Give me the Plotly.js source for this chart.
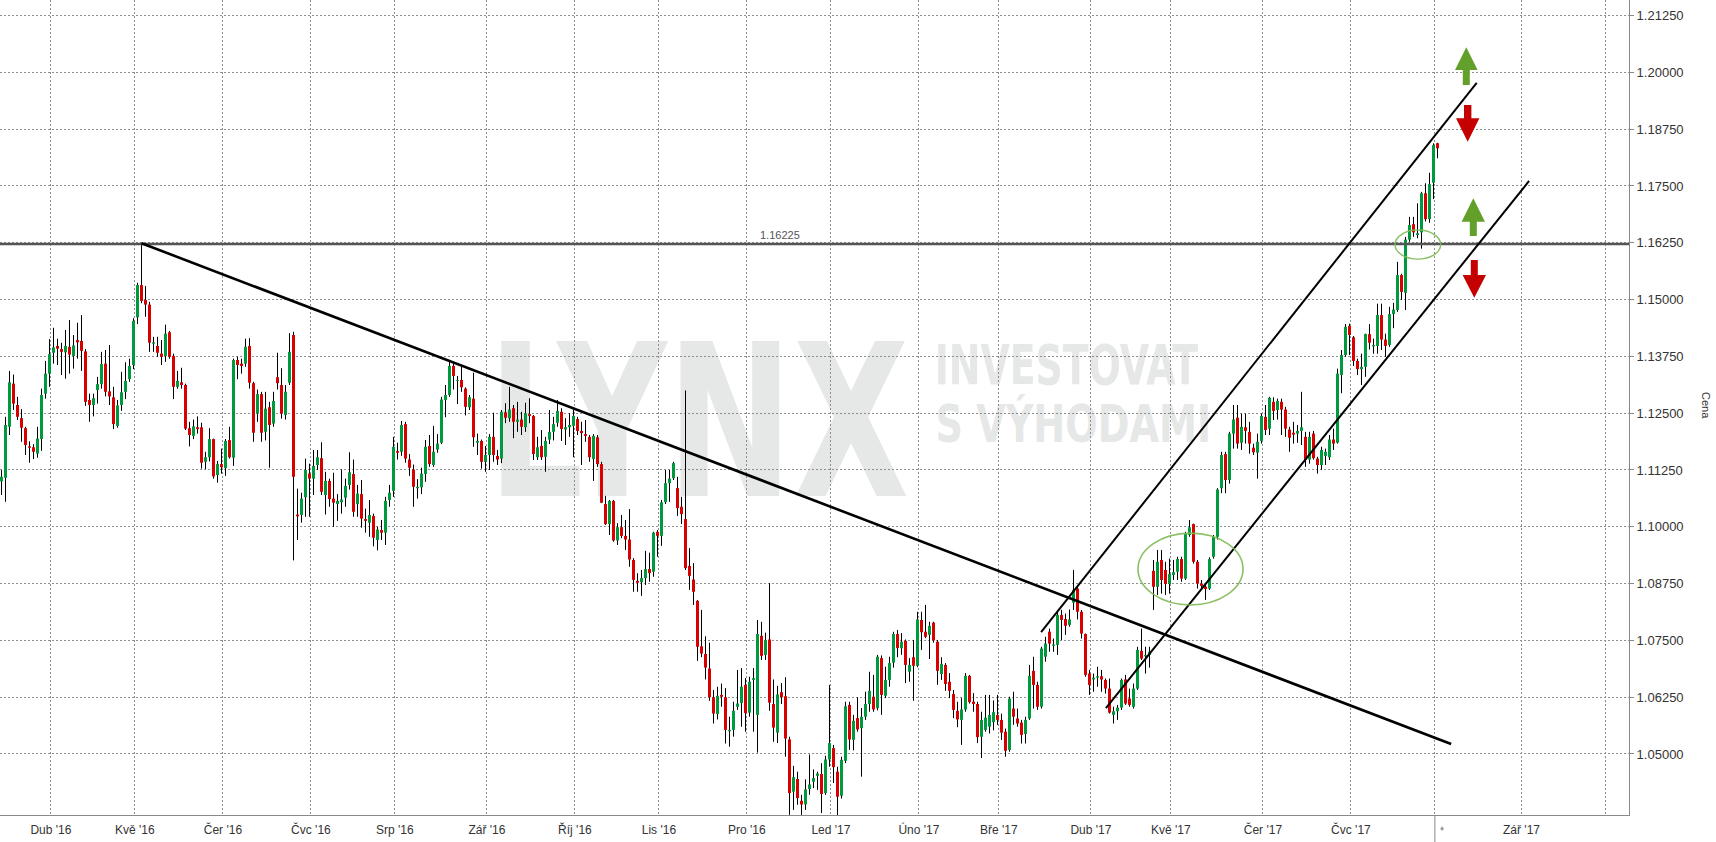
<!DOCTYPE html>
<html>
<head>
<meta charset="utf-8">
<script src="https://cdn.plot.ly/plotly-3.0.1.min.js"></script>
<style>
html,body{margin:0;padding:0;background:#ffffff;}
#wrap{position:relative;width:1716px;height:842px;overflow:hidden;background:#fff;}
#wm{position:absolute;left:0;top:0;z-index:0;}
#chart{position:absolute;left:0;top:0;width:1716px;height:842px;z-index:1;}
</style>
</head>
<body>
<div id="wrap"><svg id="wm" width="1716" height="842" xmlns="http://www.w3.org/2000/svg"></svg><div id="chart"></div></div>
<script>
// ---------------- DATA (EUR/USD daily) ----------------
const firstDay = "2016-03-15";
const lastDay = "2017-08-01";
const closedDays = ["2016-12-26"];

const openP = [
1.1100,1.1108,1.1220,1.1315,1.1268,1.1239,1.1217,1.1177,1.1175,1.1161,
1.1193,1.1293,1.1337,1.1383,1.1398,1.1391,1.1384,1.1396,1.1376,1.1411,
1.1409,1.1386,1.1279,1.1268,1.1301,1.1314,1.1359,1.1298,1.1285,1.1222,
1.1268,1.1297,1.1325,1.1356,1.1461,1.1532,1.1499,1.1489,1.1403,1.1398,
1.1381,1.1376,1.1428,1.1376,1.1308,1.1318,1.1312,1.1217,1.1200,1.1219,
1.1219,1.1143,1.1153,1.1193,1.1114,1.1138,1.1129,1.1191,1.1152,1.1367,
1.1359,1.1359,1.1398,1.1316,1.1249,1.1292,1.1209,1.1263,1.1227,1.1329,
1.1312,1.1246,1.1317,1.1422,1.1027,1.1026,1.1065,1.1117,1.1106,1.1136,
1.1151,1.1070,1.1101,1.1062,1.1050,1.1054,1.1064,1.1092,1.1116,1.1050,
1.1072,1.1017,1.1009,1.1024,1.0971,1.0993,1.0987,1.1059,1.1079,1.1167,
1.1165,1.1226,1.1148,1.1126,1.1085,1.1087,1.1116,1.1178,1.1136,1.1170,
1.1185,1.1279,1.1290,1.1354,1.1321,1.1323,1.1304,1.1263,1.1282,1.1185,
1.1189,1.1143,1.1158,1.1198,1.1156,1.1150,1.1252,1.1239,1.1261,1.1231,
1.1236,1.1219,1.1248,1.1244,1.1153,1.1178,1.1154,1.1192,1.1209,1.1229,
1.1253,1.1214,1.1219,1.1222,1.1237,1.1211,1.1204,1.1198,1.1149,1.1197,
1.1138,1.1050,1.1006,1.1057,1.0970,1.0999,1.0980,1.0972,1.0927,1.0881,
1.0878,1.0887,1.0907,1.0901,1.0989,1.0980,1.1054,1.1096,1.1107,1.1085,
1.1044,1.1017,1.0914,1.0884,1.0837,1.0737,1.0720,1.0688,1.0625,1.0588,
1.0630,1.0625,1.0550,1.0553,1.0604,1.0612,1.0652,1.0591,1.0663,1.0586,
1.0760,1.0718,1.0752,1.0610,1.0547,1.0636,1.0627,1.0532,1.0417,1.0445,
1.0397,1.0389,1.0423,1.0439,1.0452,1.0456,1.0414,1.0488,1.0513,1.0461,
1.0408,1.0485,1.0608,1.0531,1.0579,1.0557,1.0582,1.0610,1.0626,1.0601,
1.0711,1.0628,1.0663,1.0701,1.0764,1.0733,1.0749,1.0681,1.0713,1.0694,
1.0795,1.0769,1.0762,1.0789,1.0747,1.0676,1.0696,1.0659,1.0632,1.0595,
1.0575,1.0598,1.0672,1.0615,1.0610,1.0538,1.0553,1.0560,1.0570,1.0586,
1.0575,1.0549,1.0509,1.0600,1.0578,1.0569,1.0544,1.0578,1.0683,1.0652,
1.0604,1.0714,1.0769,1.0738,1.0740,1.0806,1.0797,1.0784,1.0833,1.0864,
1.0813,1.0764,1.0677,1.0664,1.0668,1.0671,1.0663,1.0644,1.0586,1.0594,
1.0602,1.0664,1.0622,1.0604,1.0644,1.0727,1.0715,1.0718,1.0903,1.0868,
1.0927,1.0905,1.0874,1.0894,1.0901,1.0929,1.0886,1.0982,1.1006,1.0923,
1.0875,1.0868,1.0864,1.0934,1.0978,1.1085,1.1160,1.1103,1.1205,1.1240,
1.1185,1.1219,1.1209,1.1174,1.1163,1.1189,1.1242,1.1216,1.1275,1.1257,
1.1275,1.1258,1.1214,1.1207,1.1205,1.1211,1.1198,1.1148,1.1205,1.1150,
1.1136,1.1156,1.1153,1.1192,1.1185,1.1334,1.1378,1.1442,1.1417,1.1365,
1.1347,1.1352,1.1424,1.1397,1.1398,1.1466,1.1412,1.1400,1.1468,1.1477,
1.1554,1.1515,1.1632,1.1666,1.1642,1.1648,1.1734,1.1677,1.1757,1.1844
];
const highP = [
1.1125,1.1242,1.1343,1.1335,1.1286,1.1259,1.1220,1.1188,1.1182,1.1220,
1.1304,1.1365,1.1413,1.1438,1.1414,1.1405,1.1433,1.1455,1.1422,1.1449,
1.1466,1.1391,1.1293,1.1293,1.1330,1.1385,1.1389,1.1400,1.1308,1.1279,
1.1341,1.1362,1.1370,1.1459,1.1537,1.1624,1.1530,1.1495,1.1418,1.1418,
1.1411,1.1445,1.1431,1.1381,1.1343,1.1350,1.1315,1.1231,1.1236,1.1243,
1.1229,1.1165,1.1217,1.1194,1.1145,1.1172,1.1193,1.1220,1.1370,1.1374,
1.1370,1.1414,1.1415,1.1319,1.1302,1.1297,1.1297,1.1275,1.1297,1.1383,
1.1349,1.1312,1.1426,1.1429,1.1084,1.1075,1.1150,1.1139,1.1169,1.1169,
1.1186,1.1121,1.1106,1.1119,1.1072,1.1126,1.1106,1.1164,1.1148,1.1092,
1.1103,1.1040,1.1059,1.1029,1.1000,1.1015,1.1066,1.1092,1.1198,1.1185,
1.1233,1.1231,1.1160,1.1137,1.1105,1.1130,1.1191,1.1202,1.1222,1.1204,
1.1286,1.1312,1.1363,1.1360,1.1332,1.1352,1.1307,1.1290,1.1339,1.1205,
1.1192,1.1178,1.1204,1.1251,1.1169,1.1257,1.1272,1.1308,1.1268,1.1275,
1.1253,1.1273,1.1283,1.1246,1.1198,1.1213,1.1198,1.1257,1.1242,1.1279,
1.1261,1.1239,1.1250,1.1258,1.1242,1.1231,1.1235,1.1202,1.1204,1.1202,
1.1143,1.1068,1.1059,1.1059,1.1008,1.1026,1.1015,1.1039,1.0931,1.0898,
1.0905,1.0947,1.0943,1.0989,1.0993,1.1059,1.1125,1.1125,1.1143,1.1110,
1.1066,1.1300,1.0953,1.0920,1.0839,1.0817,1.0759,1.0745,1.0641,1.0648,
1.0655,1.0645,1.0582,1.0615,1.0685,1.0689,1.0667,1.0670,1.0689,1.0795,
1.0791,1.0767,1.0876,1.0664,1.0650,1.0656,1.0669,1.0538,1.0474,1.0461,
1.0410,1.0444,1.0499,1.0466,1.0461,1.0480,1.0496,1.0652,1.0520,1.0472,
1.0494,1.0615,1.0615,1.0586,1.0625,1.0601,1.0637,1.0681,1.0674,1.0718,
1.0717,1.0692,1.0714,1.0769,1.0773,1.0766,1.0752,1.0711,1.0751,1.0813,
1.0813,1.0828,1.0791,1.0791,1.0751,1.0713,1.0700,1.0678,1.0641,1.0615,
1.0623,1.0678,1.0674,1.0634,1.0615,1.0593,1.0630,1.0630,1.0618,1.0630,
1.0589,1.0556,1.0626,1.0637,1.0600,1.0575,1.0582,1.0696,1.0714,1.0659,
1.0736,1.0758,1.0776,1.0754,1.0813,1.0817,1.0809,1.0818,1.0905,1.0869,
1.0817,1.0765,1.0685,1.0677,1.0692,1.0685,1.0666,1.0666,1.0604,1.0608,
1.0666,1.0674,1.0644,1.0655,1.0736,1.0776,1.0736,1.0736,1.0927,1.0949,
1.0949,1.0923,1.0930,1.0927,1.0934,1.0934,1.0989,1.1015,1.1007,1.0927,
1.0883,1.0872,1.0933,1.0982,1.1085,1.1165,1.1165,1.1209,1.1268,1.1268,
1.1249,1.1249,1.1231,1.1183,1.1205,1.1249,1.1268,1.1286,1.1285,1.1282,
1.1282,1.1264,1.1220,1.1231,1.1224,1.1297,1.1209,1.1209,1.1211,1.1154,
1.1176,1.1172,1.1202,1.1216,1.1348,1.1389,1.1446,1.1447,1.1420,1.1370,
1.1381,1.1425,1.1446,1.1414,1.1491,1.1491,1.1425,1.1484,1.1493,1.1583,
1.1557,1.1638,1.1682,1.1682,1.1712,1.1737,1.1756,1.1779,1.1844,1.1845
];
const lowP = [
1.1070,1.1055,1.1202,1.1257,1.1235,1.1187,1.1158,1.1141,1.1149,1.1152,
1.1167,1.1282,1.1308,1.1359,1.1356,1.1334,1.1326,1.1337,1.1348,1.1370,
1.1343,1.1266,1.1231,1.1243,1.1271,1.1304,1.1287,1.1268,1.1215,1.1218,
1.1255,1.1281,1.1319,1.1347,1.1446,1.1492,1.1462,1.1385,1.1385,1.1374,
1.1356,1.1363,1.1370,1.1281,1.1304,1.1304,1.1213,1.1177,1.1193,1.1205,
1.1128,1.1127,1.1144,1.1106,1.1097,1.1117,1.1112,1.1150,1.1134,1.1325,
1.1337,1.1352,1.1304,1.1187,1.1231,1.1187,1.1190,1.1130,1.1220,1.1302,
1.1238,1.1236,1.1312,1.0926,1.0971,1.1009,1.1022,1.1022,1.1070,1.1125,
1.1070,1.1027,1.1044,1.1000,1.1013,1.1029,1.1044,1.1082,1.1022,1.1022,
1.0998,1.0987,1.0978,1.0957,1.0948,1.0971,1.0960,1.1044,1.1066,1.1148,
1.1156,1.1141,1.1112,1.1044,1.1062,1.1072,1.1099,1.1132,1.1132,1.1163,
1.1182,1.1241,1.1286,1.1302,1.1270,1.1297,1.1245,1.1257,1.1176,1.1158,
1.1128,1.1121,1.1125,1.1143,1.1136,1.1140,1.1228,1.1231,1.1195,1.1209,
1.1202,1.1209,1.1228,1.1147,1.1147,1.1147,1.1121,1.1182,1.1190,1.1220,
1.1189,1.1180,1.1198,1.1153,1.1202,1.1136,1.1187,1.1143,1.1101,1.1132,
1.1052,1.1004,1.0982,1.0967,1.0960,1.0975,1.0949,1.0912,1.0857,1.0857,
1.0848,1.0872,1.0879,1.0890,1.0934,1.0958,1.1050,1.1055,1.1103,1.1024,
1.1006,1.0905,1.0861,1.0828,1.0705,1.0713,1.0664,1.0617,1.0567,1.0576,
1.0604,1.0523,1.0516,1.0538,1.0597,1.0560,1.0549,1.0582,1.0549,1.0503,
1.0707,1.0707,1.0595,1.0527,1.0524,1.0610,1.0494,1.0366,1.0377,1.0388,
1.0366,1.0377,1.0410,1.0425,1.0421,1.0370,1.0410,1.0472,1.0436,1.0340,
1.0402,1.0480,1.0509,1.0508,1.0549,1.0450,1.0575,1.0593,1.0593,1.0596,
1.0586,1.0623,1.0648,1.0690,1.0713,1.0718,1.0656,1.0659,1.0617,1.0691,
1.0729,1.0755,1.0709,1.0745,1.0652,1.0663,1.0639,1.0623,1.0579,1.0559,
1.0520,1.0593,1.0611,1.0593,1.0524,1.0491,1.0549,1.0545,1.0552,1.0564,
1.0531,1.0494,1.0505,1.0564,1.0560,1.0523,1.0523,1.0575,1.0600,1.0597,
1.0600,1.0703,1.0725,1.0725,1.0718,1.0751,1.0762,1.0780,1.0817,1.0796,
1.0754,1.0670,1.0630,1.0637,1.0648,1.0637,1.0633,1.0589,1.0567,1.0575,
1.0597,1.0608,1.0604,1.0600,1.0641,1.0707,1.0677,1.0690,1.0817,1.0850,
1.0853,1.0850,1.0853,1.0883,1.0883,1.0879,1.0883,1.0978,1.0919,1.0864,
1.0861,1.0839,1.0861,1.0930,1.0972,1.1074,1.1074,1.1095,1.1172,1.1172,
1.1169,1.1183,1.1161,1.1158,1.1106,1.1183,1.1202,1.1202,1.1235,1.1236,
1.1202,1.1198,1.1165,1.1183,1.1185,1.1180,1.1132,1.1139,1.1148,1.1117,
1.1125,1.1136,1.1147,1.1169,1.1183,1.1294,1.1374,1.1378,1.1354,1.1334,
1.1312,1.1330,1.1390,1.1381,1.1381,1.1389,1.1374,1.1396,1.1437,1.1473,
1.1499,1.1477,1.1627,1.1638,1.1635,1.1612,1.1672,1.1669,1.1721,1.1811
];
const closeP = [
1.1110,1.1224,1.1318,1.1271,1.1242,1.1218,1.1180,1.1174,1.1165,1.1194,
1.1290,1.1337,1.1380,1.1395,1.1392,1.1385,1.1398,1.1379,1.1399,1.1406,
1.1387,1.1275,1.1268,1.1283,1.1314,1.1358,1.1297,1.1287,1.1226,1.1267,
1.1296,1.1321,1.1354,1.1453,1.1532,1.1497,1.1489,1.1405,1.1406,1.1383,
1.1374,1.1425,1.1374,1.1308,1.1321,1.1312,1.1216,1.1202,1.1221,1.1215,
1.1141,1.1153,1.1193,1.1111,1.1138,1.1131,1.1189,1.1153,1.1367,1.1356,
1.1354,1.1396,1.1317,1.1207,1.1292,1.1207,1.1260,1.1224,1.1277,1.1316,
1.1249,1.1297,1.1385,1.1110,1.1023,1.1062,1.1125,1.1106,1.1134,1.1153,
1.1077,1.1101,1.1061,1.1053,1.1057,1.1060,1.1090,1.1120,1.1033,1.1073,
1.1018,1.1013,1.1026,1.0976,1.0994,1.0987,1.1057,1.1075,1.1176,1.1163,
1.1224,1.1150,1.1130,1.1088,1.1088,1.1117,1.1176,1.1138,1.1165,1.1183,
1.1280,1.1290,1.1354,1.1332,1.1323,1.1307,1.1264,1.1285,1.1197,1.1189,
1.1143,1.1158,1.1198,1.1158,1.1148,1.1253,1.1240,1.1258,1.1231,1.1236,
1.1220,1.1250,1.1244,1.1160,1.1175,1.1153,1.1189,1.1209,1.1226,1.1255,
1.1215,1.1219,1.1224,1.1244,1.1211,1.1206,1.1200,1.1153,1.1200,1.1138,
1.1053,1.1006,1.1057,1.0970,1.0999,1.0980,1.0972,1.0928,1.0883,1.0877,
1.0887,1.0907,1.0898,1.0987,1.0980,1.1054,1.1096,1.1106,1.1140,1.1041,
1.1028,1.0909,1.0892,1.0857,1.0736,1.0721,1.0690,1.0625,1.0589,1.0628,
1.0626,1.0553,1.0553,1.0595,1.0611,1.0648,1.0590,1.0659,1.0667,1.0764,
1.0716,1.0751,1.0613,1.0558,1.0631,1.0625,1.0534,1.0414,1.0449,1.0403,
1.0389,1.0422,1.0433,1.0447,1.0457,1.0412,1.0488,1.0524,1.0471,1.0406,
1.0487,1.0605,1.0532,1.0573,1.0554,1.0582,1.0610,1.0639,1.0598,1.0714,
1.0630,1.0663,1.0700,1.0764,1.0733,1.0747,1.0696,1.0696,1.0694,1.0796,
1.0768,1.0758,1.0782,1.0750,1.0683,1.0698,1.0654,1.0639,1.0597,1.0576,
1.0598,1.0672,1.0614,1.0610,1.0537,1.0575,1.0580,1.0586,1.0592,1.0575,
1.0547,1.0507,1.0622,1.0582,1.0567,1.0542,1.0575,1.0672,1.0652,1.0604,
1.0732,1.0743,1.0743,1.0741,1.0806,1.0795,1.0782,1.0796,1.0861,1.0813,
1.0765,1.0674,1.0652,1.0668,1.0671,1.0664,1.0644,1.0591,1.0594,1.0602,
1.0663,1.0611,1.0608,1.0644,1.0729,1.0710,1.0718,1.0725,1.0868,1.0923,
1.0883,1.0874,1.0896,1.0900,1.0929,1.0886,1.0984,1.0999,1.0923,1.0875,
1.0870,1.0863,1.0929,1.0978,1.1082,1.1158,1.1103,1.1205,1.1236,1.1183,
1.1220,1.1211,1.1183,1.1164,1.1187,1.1244,1.1213,1.1284,1.1255,1.1277,
1.1258,1.1216,1.1196,1.1203,1.1211,1.1219,1.1147,1.1198,1.1151,1.1136,
1.1169,1.1165,1.1192,1.1183,1.1337,1.1378,1.1440,1.1422,1.1365,1.1347,
1.1352,1.1424,1.1405,1.1400,1.1466,1.1412,1.1398,1.1468,1.1478,1.1554,
1.1517,1.1632,1.1664,1.1648,1.1646,1.1734,1.1677,1.1754,1.1840,1.1833
];

const monthKeys   = ["2016-04","2016-05","2016-06","2016-07","2016-08","2016-09","2016-10","2016-11","2016-12","2017-01","2017-02","2017-03","2017-04","2017-05","2017-06","2017-07","2017-08"];
const monthLabels = ["Dub '16","Kvě '16","Čer '16","Čvc '16","Srp '16","Zář '16","Říj '16","Lis '16","Pro '16","Led '17","Úno '17","Bře '17","Dub '17","Kvě '17","Čer '17","Čvc '17",""];
const futureLabels = ["Zář '17",""];
const futureTickIdx = [380.0, 401.1];

const priceTicks = [1.05,1.0625,1.075,1.0875,1.10,1.1125,1.125,1.1375,1.15,1.1625,1.175,1.1875,1.20,1.2125];
const levelValue = 1.16225;
const levelLabel = "1.16225";
const axisTitle = "Cena";

// ---------------- helpers ----------------
function tradingDays(){
  const out=[]; const p=firstDay.split('-').map(Number); const q=lastDay.split('-').map(Number);
  let t=Date.UTC(p[0],p[1]-1,p[2]); const end=Date.UTC(q[0],q[1]-1,q[2]);
  while(t<=end){ const d=new Date(t); const wd=d.getUTCDay(); const s=d.toISOString().slice(0,10);
    if(wd!==0 && wd!==6 && closedDays.indexOf(s)<0) out.push(s); t+=86400000; }
  return out;
}
const dates = tradingDays();
const N = openP.length;

// plot geometry (pixels)
const W=1716, H=842, ML=0, MR=87, MT=0, MB=27;
const PW=W-ML-MR, PH=H-MT-MB;
const xRange=[-0.375, -0.375 + PW/4];
const yTop=1.21593, yBot=yTop - PH*0.00022007;
const pxX = v => v/PW;          // pixel -> paper x
const pxY = v => 1 - v/PH;      // pixel -> paper y
const idxFromPx = v => v/4 + xRange[0];

// ---------------- traces ----------------
const wx=[], wy=[], gx=[], gy=[], rx=[], ry=[];
for(let i=0;i<N;i++){
  wx.push(i,i,null); wy.push(lowP[i],highP[i],null);
  if(closeP[i]>=openP[i]){ gx.push(i,i,null); gy.push(openP[i],closeP[i],null); }
  else { rx.push(i,i,null); ry.push(openP[i],closeP[i],null); }
}
const traces=[
  {type:'scatter',mode:'lines',x:wx,y:wy,line:{color:'#000000',width:1,simplify:false},hoverinfo:'skip',showlegend:false,connectgaps:false},
  {type:'scatter',mode:'lines',x:gx,y:gy,line:{color:'#009a3e',width:3,simplify:false},hoverinfo:'skip',showlegend:false,connectgaps:false},
  {type:'scatter',mode:'lines',x:rx,y:ry,line:{color:'#d80000',width:3,simplify:false},hoverinfo:'skip',showlegend:false,connectgaps:false}
];

// ---------------- ticks ----------------
const tickvals=[], ticktext=[];
monthKeys.forEach((k,j)=>{
  const idx = dates.findIndex(d=>d.slice(0,7)===k);
  if(idx>=0){ tickvals.push(idx-0.65); ticktext.push(monthLabels[j]); }
});
futureTickIdx.forEach((v,j)=>{ tickvals.push(v); ticktext.push(futureLabels[j]); });
const augIdx = dates.findIndex(d=>d.slice(0,7)==="2017-08") - 0.65;

// ---------------- shapes ----------------
function arrowPath(cx, yTip, yBase, yEnd, hw, sw){
  const pts=[[cx,yTip],[cx+hw,yBase],[cx+sw,yBase],[cx+sw,yEnd],[cx-sw,yEnd],[cx-sw,yBase],[cx-hw,yBase]];
  return 'M' + pts.map(p=>pxX(p[0]).toFixed(5)+','+pxY(p[1]).toFixed(5)).join(' L') + ' Z';
}
const GREEN_A='#63a02b', RED_A='#c40000', ELL='rgba(125,185,85,0.9)';
const shapes=[
  {type:'line',xref:'paper',yref:'y',x0:0,x1:1,y0:levelValue,y1:levelValue,line:{color:'#555555',width:2.5},layer:'above'},
  {type:'line',xref:'x',yref:'y',x0:35,y0:1.1624,x1:362.4,y1:1.0522,line:{color:'#000000',width:2.6}},
  {type:'line',xref:'x',yref:'y',x0:259.9,y0:1.0768,x1:368.8,y1:1.1977,line:{color:'#000000',width:2}},
  {type:'line',xref:'x',yref:'y',x0:276.1,y0:1.0601,x1:381.9,y1:1.1761,line:{color:'#000000',width:2}},
  {type:'circle',xref:'x',yref:'y',x0:idxFromPx(1138),x1:idxFromPx(1243),y0:1.0828,y1:1.0986,line:{color:ELL,width:1.6}},
  {type:'circle',xref:'x',yref:'y',x0:idxFromPx(1395),x1:idxFromPx(1440.7),y0:1.1589,y1:1.1653,line:{color:ELL,width:1.4}},
  {type:'path',xref:'paper',yref:'paper',path:arrowPath(1466.3,47.3,70,85,11.3,3.5),fillcolor:GREEN_A,line:{width:0}},
  {type:'path',xref:'paper',yref:'paper',path:arrowPath(1467.7,141.7,118.3,105,11.7,3.7),fillcolor:RED_A,line:{width:0}},
  {type:'path',xref:'paper',yref:'paper',path:arrowPath(1473.3,198.3,221.7,236,11.7,3.5),fillcolor:GREEN_A,line:{width:0}},
  {type:'path',xref:'paper',yref:'paper',path:arrowPath(1474.3,297.7,275,260,11.7,3.5),fillcolor:RED_A,line:{width:0}},
  {type:'line',xref:'x',yref:'paper',x0:augIdx,x1:augIdx,y0:0,y1:-MB/PH,line:{color:'#888888',width:1}}
];

const FONT='"Liberation Sans", Arial, sans-serif';
const annotations=[
  {xref:'x',yref:'y',x:idxFromPx(780),y:levelValue,text:levelLabel,showarrow:false,yanchor:'bottom',yshift:1,font:{family:FONT,size:11,color:'#555555'}},
  {xref:'paper',yref:'paper',x:pxX(1706),y:pxY(405),text:axisTitle,showarrow:false,textangle:90,xanchor:'center',yanchor:'middle',font:{family:FONT,size:11,color:'#333333'}},
  {xref:'x',yref:'paper',x:idxFromPx(1442),y:pxY(829),text:'♦',showarrow:false,xanchor:'center',yanchor:'middle',font:{family:FONT,size:8,color:'#9a9a9a'}}
];

const layout={
  width:W,height:H,autosize:false,
  margin:{l:ML,r:MR,t:MT,b:MB,pad:0},
  paper_bgcolor:'rgba(0,0,0,0)',plot_bgcolor:'rgba(0,0,0,0)',
  showlegend:false,hovermode:false,
  font:{family:FONT,color:'#333333'},
  xaxis:{type:'linear',range:xRange,tickmode:'array',tickvals:tickvals,ticktext:ticktext,
    showgrid:true,gridcolor:'#8e8e8e',gridwidth:1,griddash:'2px,2px',zeroline:false,
    showline:true,linecolor:'#8a8a8a',linewidth:1,ticks:'',ticklabelstandoff:4,
    tickfont:{family:FONT,size:12,color:'#333333'}},
  yaxis:{type:'linear',side:'right',range:[yBot,yTop],tickmode:'array',tickvals:priceTicks,tickformat:'.5f',
    showgrid:true,gridcolor:'#8e8e8e',gridwidth:1,griddash:'2px,2px',zeroline:false,
    showline:true,linecolor:'#8a8a8a',linewidth:1,ticks:'outside',ticklen:4,tickcolor:'#8a8a8a',
    tickfont:{family:FONT,size:13,color:'#333333'}},
  shapes:shapes,annotations:annotations
};

// ---------------- watermark (real text, fitted to its box, behind the chart) ----------------
function fitText(svg,text,box,family,color){
  const ctx=document.createElement('canvas').getContext('2d');
  ctx.font='bold 100px '+family;
  const m=ctx.measureText(text);
  const inkW=m.actualBoundingBoxLeft+m.actualBoundingBoxRight;
  const inkH=m.actualBoundingBoxAscent+m.actualBoundingBoxDescent;
  const sx=(box[2]-box[0])/inkW, sy=(box[3]-box[1])/inkH;
  const t=document.createElementNS('http://www.w3.org/2000/svg','text');
  t.setAttribute('x',0); t.setAttribute('y',0);
  t.setAttribute('font-family',family.replace(/"/g,''));
  t.setAttribute('font-weight','bold'); t.setAttribute('font-size','100');
  t.setAttribute('fill',color);
  const tx=box[0]+m.actualBoundingBoxLeft*sx, ty=box[1]+m.actualBoundingBoxAscent*sy;
  t.setAttribute('transform','translate('+tx.toFixed(2)+','+ty.toFixed(2)+') scale('+sx.toFixed(4)+','+sy.toFixed(4)+')');
  t.textContent=text; svg.appendChild(t);
}
const wmFamily='"Liberation Sans Narrow", "DejaVu Sans Condensed", sans-serif';
const svg=document.getElementById('wm');
fitText(svg,'LYNX',[501,341,907,496],wmFamily,'#e6e7e7');
fitText(svg,'INVESTOVAT',[938,343,1198,385],wmFamily,'#e6e7e7');
fitText(svg,'S VÝHODAMI',[938,394,1208,443],wmFamily,'#e6e7e7');

Plotly.newPlot('chart',traces,layout,{displayModeBar:false,staticPlot:true});
</script>
</body>
</html>
